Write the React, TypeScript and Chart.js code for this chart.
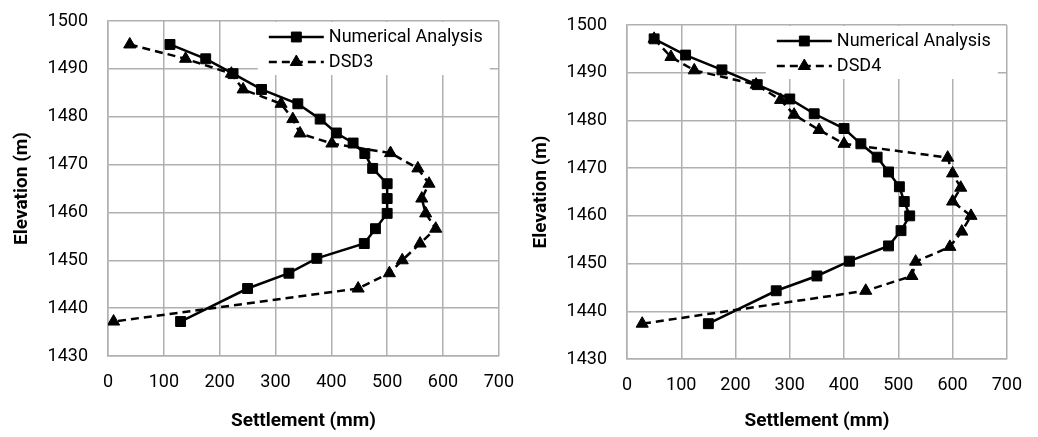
import React, { useEffect, useRef } from "react";
import { Chart, registerables } from "chart.js";
import { drawPoint } from "chart.js/helpers";

Chart.register(...registerables);

// ---- Data (left chart: Numerical Analysis vs DSD3) ----
const elevLeftNum = [1495.1, 1492.1, 1489.0, 1485.7, 1482.7, 1479.5, 1476.6, 1474.5, 1472.3, 1469.2, 1466.0, 1462.9, 1459.8, 1456.6, 1453.5, 1450.4, 1447.3, 1444.1, 1437.2];
const settleLeftNum = [111, 175, 224, 275, 340, 380, 409, 439, 460, 474, 500, 500, 500, 479, 459, 374, 324, 250, 130];
const elevLeftDsd = [1495.1, 1492.1, 1489.0, 1485.7, 1482.7, 1479.5, 1476.5, 1474.4, 1472.4, 1469.2, 1466.0, 1462.9, 1459.8, 1456.6, 1453.5, 1450.0, 1447.3, 1444.1, 1437.2];
const settleLeftDsd = [39, 139, 221, 242, 310, 331, 344, 401, 506, 555, 575, 562, 569, 587, 559, 527, 504, 448, 10];

// ---- Data (right chart: Numerical Analysis vs DSD4) ----
const elevRightNum = [1497.1, 1493.7, 1490.6, 1487.5, 1484.5, 1481.4, 1478.3, 1475.1, 1472.3, 1469.2, 1466.1, 1463.0, 1460.0, 1456.9, 1453.7, 1450.5, 1447.4, 1444.3, 1437.4];
const settleRightNum = [50, 108, 175, 240, 300, 345, 400, 431, 461, 482, 502, 511, 521, 505, 482, 410, 350, 275, 150];
const elevRightDsd = [1497.1, 1493.3, 1490.5, 1487.5, 1484.3, 1481.2, 1478.0, 1475.1, 1472.2, 1468.9, 1465.9, 1463.0, 1460.0, 1456.7, 1453.5, 1450.4, 1447.4, 1444.3, 1437.4];
const settleRightDsd = [50, 81, 124, 238, 283, 308, 354, 400, 591, 600, 615, 600, 634, 617, 595, 532, 525, 440, 28];

const seriesNames = ["Numerical Analysis", "DSD3", "DSD4"];
const xTitle = "Settlement (mm)";
const yTitle = "Elevation (m)";
const xMin = 0, xMax = 700, xStep = 100;
const yMin = 1430, yMax = 1500, yStep = 10;

const FONT = "Roboto, 'Open Sans', sans-serif";
const GRID = "#b0b0b0";

const toPts = (xs: number[], ys: number[]) => xs.map((x, i) => ({ x, y: ys[i] }));

const boxLegend = {
  id: "boxLegend",
  afterDraw(chart: any) {
    const { ctx, chartArea } = chart;
    const { top, right } = chartArea;
    ctx.save();
    ctx.fillStyle = "#ffffff";
    ctx.fillRect(right - 241, top + 1, 232, 53);
    chart.data.datasets.forEach((ds: any, i: number) => {
      const y = top + 16 + i * 25;
      const x0 = right - 230;
      const x1 = right - 175;
      ctx.strokeStyle = ds.borderColor;
      ctx.lineWidth = ds.borderWidth;
      ctx.setLineDash(ds.borderDash || []);
      ctx.beginPath();
      ctx.moveTo(x0, y);
      ctx.lineTo(x1, y);
      ctx.stroke();
      ctx.setLineDash([]);
      ctx.fillStyle = ds.pointBackgroundColor;
      ctx.strokeStyle = ds.pointBorderColor;
      ctx.lineWidth = ds.pointBorderWidth;
      drawPoint(ctx, { pointStyle: ds.pointStyle, radius: ds.pointRadius, rotation: 0, borderWidth: ds.pointBorderWidth }, (x0 + x1) / 2, y);
      ctx.fillStyle = "#000";
      ctx.font = `18px ${FONT}`;
      ctx.textBaseline = "middle";
      ctx.textAlign = "left";
      ctx.fillText(ds.label, right - 170, y);
    });
    ctx.restore();
  },
};

function makeDatasets(numX: number[], numY: number[], dsdX: number[], dsdY: number[], dsdName: string) {
  return [
    {
      label: seriesNames[0],
      data: toPts(numX, numY),
      showLine: true,
      borderColor: "#000",
      backgroundColor: "#000",
      borderWidth: 2.5,
      pointStyle: "rect",
      pointRadius: 7,
      pointBorderWidth: 1,
      pointBackgroundColor: "#000",
      pointBorderColor: "#000",
    },
    {
      label: dsdName,
      data: toPts(dsdX, dsdY),
      showLine: true,
      borderColor: "#000",
      backgroundColor: "#000",
      borderWidth: 2.5,
      borderDash: [8, 5],
      pointStyle: "triangle",
      pointRadius: 7,
      pointBorderWidth: 1,
      pointBackgroundColor: "#000",
      pointBorderColor: "#000",
    },
  ];
}

function ChartBox(props: { left: number; width: number; padTop: number; padRight: number; plotBottom: number; datasets: any[] }) {
  const ref = useRef<HTMLCanvasElement | null>(null);
  useEffect(() => {
    if (!ref.current) return;
    const H = 437;
    const padBottom = 2;
    const xHeight = H - padBottom - props.plotBottom;
    const chart = new Chart(ref.current, {
      type: "scatter",
      data: { datasets: props.datasets },
      plugins: [boxLegend],
      options: {
        animation: false,
        responsive: false,
        devicePixelRatio: 1,
        layout: { padding: { top: props.padTop, right: props.padRight, bottom: padBottom, left: 0 } },
        plugins: { legend: { display: false }, tooltip: { enabled: false } },
        scales: {
          x: {
            type: "linear",
            min: xMin,
            max: xMax,
            afterFit: (s: any) => { s.height = xHeight; },
            ticks: { stepSize: xStep, color: "#000", font: { family: FONT, size: 18 }, padding: 16, callback: (v: any) => String(v) },
            grid: { color: GRID, lineWidth: 1.5, drawTicks: false },
            border: { color: GRID, width: 1.5 },
            title: { display: true, text: xTitle, color: "#000", font: { family: FONT, size: 19, weight: "bold" }, padding: { bottom: 2, top: 0 } },
          },
          y: {
            type: "linear",
            min: yMin,
            max: yMax,
            afterFit: (s: any) => { s.width = 108; s.paddingTop = 10; s.paddingBottom = 10; },
            ticks: { stepSize: yStep, color: "#000", font: { family: FONT, size: 18 }, padding: 20, callback: (v: any) => String(v) },
            grid: { color: GRID, lineWidth: 1.5, drawTicks: false },
            border: { color: GRID, width: 1.5 },
            title: { display: true, text: yTitle, color: "#000", font: { family: FONT, size: 19, weight: "bold" }, padding: { top: 11, bottom: 0 } },
          },
        },
      } as any,
    });
    return () => chart.destroy();
  }, []);
  return (
    <canvas
      ref={ref}
      width={props.width}
      height={437}
      style={{ position: "absolute", left: props.left, top: 0, width: props.width, height: 437 }}
    />
  );
}

export default function App() {
  const leftSets = makeDatasets(settleLeftNum, elevLeftNum, settleLeftDsd, elevLeftDsd, seriesNames[1]);
  const rightSets = makeDatasets(settleRightNum, elevRightNum, settleRightDsd, elevRightDsd, seriesNames[2]);
  return (
    <div style={{ position: "absolute", left: 0, top: 0, width: 1038, height: 437, background: "#fff" }}>
      <ChartBox left={0} width={530} padTop={21} padRight={24} plotBottom={356} datasets={leftSets} />
      <ChartBox left={519} width={519} padTop={25} padRight={17} plotBottom={359} datasets={rightSets} />
    </div>
  );
}
